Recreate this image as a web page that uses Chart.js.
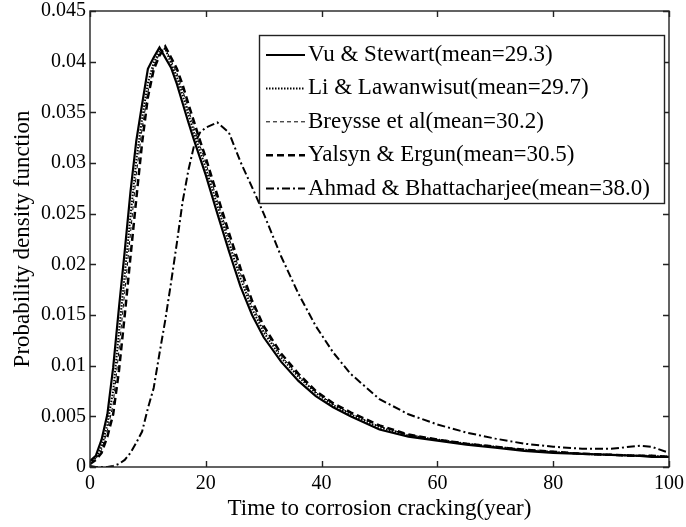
<!DOCTYPE html>
<html>
<head>
<meta charset="utf-8">
<script src="https://cdn.jsdelivr.net/npm/chart.js"></script>
<style>
  html, body { margin: 0; padding: 0; background: #fff; }
  #wrap { width: 686px; height: 527px; }
</style>
</head>
<body>
<div id="wrap"><canvas id="pdfChart" width="686" height="527"></canvas></div>
<script>
// Crack time pdf curves
const years = [0, 1, 2, 3, 4, 5, 6, 7, 8, 9, 10, 11, 12, 13, 14, 15, 16, 17, 18, 19, 20,
  22, 24, 26, 28, 30, 33, 36, 39, 42, 45, 50, 55, 60, 65, 70, 75, 80, 85, 90, 95, 97, 100];

const vuStewart = [0.0006, 0.0011, 0.0027, 0.0052, 0.0098, 0.0157, 0.0213, 0.0272, 0.0322, 0.0358, 0.0393,
  0.0404, 0.0414, 0.0404, 0.0394, 0.0378, 0.0359, 0.0340, 0.0322, 0.0305, 0.0288,
  0.0250, 0.0213, 0.0178, 0.0150, 0.0128, 0.0104, 0.0085, 0.0070, 0.0059, 0.0050,
  0.0037, 0.0030, 0.0026, 0.0022, 0.0019, 0.0016, 0.0014, 0.0013, 0.0012, 0.0011, 0.0010, 0.0010];

const liLawanwisut = [0.0004, 0.0009, 0.0020, 0.0042, 0.0075, 0.0133, 0.0190, 0.0248, 0.0303, 0.0344, 0.0379,
  0.0399, 0.0410, 0.0413, 0.0398, 0.0385, 0.0367, 0.0348, 0.0329, 0.0312, 0.0295,
  0.0258, 0.0221, 0.0186, 0.0156, 0.0133, 0.0108, 0.0089, 0.0073, 0.0061, 0.0052,
  0.0039, 0.0031, 0.0027, 0.0023, 0.0020, 0.0017, 0.0015, 0.0013, 0.0012, 0.0011, 0.0011, 0.0010];

const breysse = [0.0006, 0.0008, 0.0017, 0.0036, 0.0062, 0.0115, 0.0173, 0.0231, 0.0289, 0.0334, 0.0370,
  0.0395, 0.0408, 0.0414, 0.0401, 0.0389, 0.0372, 0.0353, 0.0334, 0.0317, 0.0300,
  0.0263, 0.0226, 0.0191, 0.0160, 0.0136, 0.0110, 0.0090, 0.0074, 0.0062, 0.0053,
  0.0040, 0.0032, 0.0027, 0.0023, 0.0020, 0.0017, 0.0015, 0.0013, 0.0012, 0.0011, 0.0011, 0.0010];

const yalsynErgun = [0.0003, 0.0007, 0.0014, 0.0030, 0.0052, 0.0095, 0.0150, 0.0208, 0.0265, 0.0320, 0.0365,
  0.0392, 0.0406, 0.0415, 0.0404, 0.0393, 0.0377, 0.0358, 0.0340, 0.0322, 0.0305,
  0.0268, 0.0231, 0.0196, 0.0164, 0.0139, 0.0112, 0.0092, 0.0075, 0.0063, 0.0054,
  0.0041, 0.0032, 0.0027, 0.0023, 0.0020, 0.0017, 0.0015, 0.0013, 0.0012, 0.0011, 0.0011, 0.0010];

const ahmadBhatt = [0.0001, 0.0000, 0.0000, 0.0000, 0.0001, 0.0003, 0.0007, 0.0014, 0.0024, 0.0035, 0.0058,
  0.0078, 0.0112, 0.0145, 0.0182, 0.0221, 0.0262, 0.0293, 0.0318, 0.0330, 0.0335,
  0.0340, 0.0330, 0.0301, 0.0276, 0.0250, 0.0208, 0.0171, 0.0139, 0.0113, 0.0092,
  0.0067, 0.0052, 0.0042, 0.0034, 0.0028, 0.0023, 0.0020, 0.0018, 0.0018, 0.0021, 0.0020, 0.0014];

const seriesNames = [
  'Vu & Stewart(mean=29.3)',
  'Li & Lawanwisut(mean=29.7)',
  'Breysse et al(mean=30.2)',
  'Yalsyn & Ergun(mean=30.5)',
  'Ahmad & Bhattacharjee(mean=38.0)'
];
const xTicks = [0, 20, 40, 60, 80, 100];
const yTicks = [0, 0.005, 0.01, 0.015, 0.02, 0.025, 0.03, 0.035, 0.04, 0.045];

const serif = "'Liberation Serif', 'Times New Roman', serif";
Chart.defaults.font.family = serif;
Chart.defaults.color = '#000';

function pts(arr) {
  return years.map((x, i) => ({ x: x, y: arr[i] }));
}

function lineSet(label, arr, width, dash) {
  return {
    label: label,
    data: pts(arr),
    borderColor: '#000',
    borderWidth: width,
    borderDash: dash,
    pointRadius: 0,
    tension: 0,
    fill: false
  };
}

// box, inward ticks and legend drawn by hand
const frame = {
  id: 'frame',
  afterDraw(chart) {
    const ctx = chart.ctx;
    const a = chart.chartArea;
    const sx = chart.scales.x, sy = chart.scales.y;
    ctx.save();
    ctx.strokeStyle = '#222';
    ctx.lineWidth = 1.4;
    ctx.setLineDash([]);
    ctx.strokeRect(a.left, a.top, a.right - a.left, a.bottom - a.top);
    ctx.beginPath();
    xTicks.forEach(v => {
      const px = Math.round(sx.getPixelForValue(v)) + 0.5;
      ctx.moveTo(px, a.bottom); ctx.lineTo(px, a.bottom - 6);
      ctx.moveTo(px, a.top); ctx.lineTo(px, a.top + 6);
    });
    yTicks.forEach(v => {
      const py = Math.round(sy.getPixelForValue(v)) + 0.5;
      ctx.moveTo(a.left, py); ctx.lineTo(a.left + 6, py);
      ctx.moveTo(a.right, py); ctx.lineTo(a.right - 6, py);
    });
    ctx.stroke();

    // legend
    const bx = 259, by = 35, bw = 405, bh = 168;
    ctx.fillStyle = '#fff';
    ctx.fillRect(bx, by, bw, bh);
    ctx.strokeStyle = '#222';
    ctx.lineWidth = 1.4;
    ctx.strokeRect(bx + 0.5, by + 0.5, bw, bh);
    ctx.font = '23px ' + serif;
    ctx.textBaseline = 'middle';
    ctx.fillStyle = '#000';
    chart.data.datasets.forEach((ds, i) => {
      const ry = by + 20 + i * 33.4;
      ctx.beginPath();
      ctx.strokeStyle = '#000';
      ctx.lineWidth = ds.borderWidth;
      ctx.setLineDash(ds.borderDash || []);
      ctx.moveTo(266, ry);
      ctx.lineTo(305, ry);
      ctx.stroke();
      ctx.setLineDash([]);
      ctx.fillText(ds.label, 308, ry);
    });
    ctx.restore();
  }
};

new Chart(document.getElementById('pdfChart'), {
  type: 'line',
  data: {
    datasets: [
      lineSet(seriesNames[0], vuStewart, 2.2, []),
      lineSet(seriesNames[1], liLawanwisut, 2, [1.5, 1.5]),
      lineSet(seriesNames[2], breysse, 1, [4, 3]),
      lineSet(seriesNames[3], yalsynErgun, 2.5, [7, 4]),
      lineSet(seriesNames[4], ahmadBhatt, 2, [8, 3, 2, 3])
    ]
  },
  options: {
    responsive: false,
    animation: false,
    layout: { padding: { left: 0, right: 17, top: 11, bottom: 0 } },
    plugins: {
      legend: { display: false },
      tooltip: { enabled: false }
    },
    scales: {
      x: {
        type: 'linear',
        min: 0, max: 100,
        afterFit(s) { s.height = 60; s.paddingLeft = 0; s.paddingRight = 0; },
        afterBuildTicks(s) { s.ticks = xTicks.map(v => ({ value: v })); },
        grid: { display: false, drawTicks: false },
        border: { display: false },
        ticks: { color: '#000', padding: 5, font: { family: serif, size: 20 } },
        title: {
          display: true,
          text: 'Time to corrosion cracking(year)',
          color: '#000',
          font: { family: serif, size: 23 },
          padding: { top: 0, bottom: 4 }
        }
      },
      y: {
        min: 0, max: 0.045,
        afterFit(s) { s.width = 90; s.paddingTop = 0; s.paddingBottom = 0; },
        afterBuildTicks(s) { s.ticks = yTicks.map(v => ({ value: v })); },
        grid: { display: false, drawTicks: false },
        border: { display: false },
        ticks: {
          color: '#000', padding: 4,
          font: { family: serif, size: 20 },
          callback: v => String(+v.toFixed(3))
        },
        title: {
          display: true,
          text: 'Probability density function',
          color: '#000',
          font: { family: serif, size: 23 },
          padding: { top: 9, bottom: 0 }
        }
      }
    }
  },
  plugins: [frame]
});
</script>
</body>
</html>
